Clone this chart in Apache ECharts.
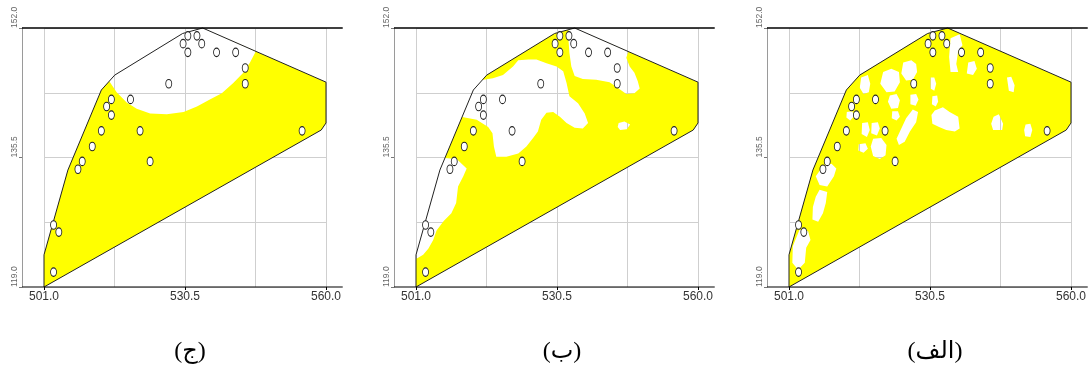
<!DOCTYPE html>
<html>
<head>
<meta charset="utf-8">
<script src="https://cdn.jsdelivr.net/npm/echarts@6.0.0/dist/echarts.min.js"></script>
<style>
  html, body { margin: 0; padding: 0; background: #fff; }
  #main { width: 1091px; height: 374px; }
</style>
</head>
<body>
<div id="main"></div>
<script>
// panel captions, left to right
const captions = ['(ج)', '(ب)', '(الف)'];

// labelled ticks (grid lines are drawn at half these steps)
const xLabelValues = [501.0, 530.5, 560.0];
const yLabelValues = [119.0, 135.5, 152.0];

// convex hull of the sampled area
const hull = [
  [501.0, 119.0], [501.0, 123.1], [506.0, 133.9], [513.0, 144.1], [515.8, 146.0],
  [530.0, 151.3], [534.2, 152.0], [560.0, 145.1], [560.0, 139.9], [559.0, 139.0]
];

// sample locations (same in every panel)
const samplePoints = [
  [503.0, 126.9], [504.1, 126.0], [503.0, 120.9], [508.1, 134.0], [509.0, 135.0],
  [511.1, 136.9], [513.0, 138.9], [514.1, 142.0], [515.1, 142.9], [515.1, 140.9],
  [519.1, 142.9], [521.1, 138.9], [523.2, 135.0], [527.1, 144.9], [530.1, 150.0],
  [531.1, 151.0], [531.1, 148.9], [533.0, 151.0], [534.0, 150.0], [537.1, 148.9],
  [541.1, 148.9], [543.1, 146.9], [543.1, 144.9], [555.0, 138.9]
];

// extent of the black frame lines above and below each plot
const frameX = [496.4, 563.5];

// unfilled (white) areas inside the hull, per panel
const holesJ = [
  [[512.7, 147.2], [514.8, 145.1], [516.2, 143.8], [518.3, 142.5], [520.4, 141.7],
   [523.2, 141.1], [526.7, 141.0], [530.2, 141.3], [533.0, 142.0], [535.7, 142.9],
   [538.2, 143.7], [540.6, 145.0], [542.7, 146.3], [544.1, 147.6], [545.4, 149.1],
   [546.2, 150.6], [535.0, 153.2], [512.7, 153.2]]
];

const holesB = [
  [[511.6, 145.0], [515.1, 145.4], [517.1, 145.6], [519.2, 146.0], [521.3, 147.1],
   [522.4, 147.9], [524.5, 148.0], [526.2, 148.0], [528.3, 147.5], [530.4, 147.1],
   [531.8, 146.5], [532.5, 145.0], [533.1, 143.3], [534.9, 142.4], [536.3, 141.1],
   [537.0, 139.9], [535.9, 139.2], [534.2, 139.3], [532.5, 139.9], [531.1, 140.7],
   [529.7, 141.3], [528.3, 141.2], [527.2, 140.3], [526.5, 138.8], [525.5, 138.0],
   [524.1, 136.9], [522.4, 136.0], [519.9, 135.6], [517.8, 135.6], [517.3, 136.9],
   [517.0, 138.6], [516.1, 139.4], [513.7, 140.3], [510.4, 140.7]],
  [[532.9, 152.5], [534.5, 152.5], [545.7, 149.5], [545.0, 148.2], [545.7, 147.1],
   [546.7, 146.3], [547.4, 145.2], [547.8, 144.3], [546.7, 143.7], [545.0, 143.6],
   [543.4, 144.3], [541.5, 145.1], [538.7, 145.4], [535.9, 145.5], [534.2, 145.9],
   [533.5, 147.1], [533.1, 148.8], [532.9, 150.5]],
  [[504.6, 135.6], [509.5, 135.3], [511.6, 134.1], [510.9, 133.1], [509.8, 131.8],
   [509.4, 129.7], [508.4, 128.4], [506.8, 127.4], [505.3, 126.2], [504.6, 125.0],
   [503.6, 123.9], [502.5, 123.1], [501.1, 122.6], [498.4, 125.8]],
  [[543.4, 139.9], [544.6, 140.1], [545.8, 139.7], [545.1, 139.1], [543.7, 139.0], [543.2, 139.4]]
];

const holesAlef = [
  [[516.1, 145.7], [517.5, 146.0], [518.0, 144.9], [517.7, 143.8], [516.6, 143.6], [515.8, 144.4]],
  [[520.7, 146.4], [522.4, 146.8], [524.0, 146.4], [524.2, 145.1], [523.1, 143.9], [521.4, 143.8], [520.1, 144.9]],
  [[524.9, 147.6], [526.6, 147.9], [527.6, 147.4], [527.8, 146.4], [526.9, 145.4], [525.5, 145.3], [524.5, 146.2]],
  [[522.1, 143.4], [523.5, 143.6], [524.2, 142.8], [523.8, 141.8], [522.4, 141.7], [521.7, 142.6]],
  [[526.4, 143.5], [527.6, 143.6], [528.1, 142.9], [527.5, 142.1], [526.4, 142.3]],
  [[530.6, 145.7], [531.4, 145.7], [531.8, 144.9], [531.4, 144.0], [530.6, 144.3]],
  [[534.8, 150.7], [536.7, 151.2], [537.3, 149.8], [536.4, 149.1], [536.0, 147.4], [536.4, 146.4], [534.8, 146.4], [534.5, 148.3]],
  [[538.5, 147.6], [539.8, 147.8], [540.3, 146.8], [539.5, 146.0], [538.2, 146.2]],
  [[546.6, 145.7], [547.5, 145.8], [548.2, 144.7], [548.0, 143.8], [547.0, 144.0]],
  [[531.5, 141.5], [533.2, 141.9], [534.6, 141.3], [536.4, 140.7], [536.7, 139.2], [535.7, 138.8], [533.9, 139.0], [532.4, 139.4], [531.0, 139.8], [530.8, 140.9]],
  [[531.0, 143.3], [532.0, 143.4], [532.2, 142.6], [531.7, 142.0], [530.9, 142.3]],
  [[526.9, 141.6], [528.0, 141.3], [527.6, 140.0], [526.3, 138.8], [525.2, 137.5], [524.0, 137.1], [523.5, 137.9], [524.5, 139.2], [525.5, 140.5]],
  [[522.6, 141.4], [523.8, 141.4], [524.2, 140.7], [523.5, 140.2], [522.5, 140.5]],
  [[516.3, 139.9], [517.5, 140.0], [517.9, 139.0], [517.3, 138.1], [516.2, 138.5]],
  [[518.3, 139.9], [519.6, 140.0], [520.0, 139.2], [519.4, 138.3], [518.2, 138.6]],
  [[518.6, 137.9], [520.3, 138.0], [521.4, 137.1], [521.2, 135.8], [520.0, 135.3], [518.6, 135.7], [518.1, 136.9]],
  [[515.6, 137.2], [517.0, 137.3], [517.5, 136.6], [516.6, 136.1], [515.5, 136.4]],
  [[513.1, 141.3], [514.3, 141.4], [514.5, 140.7], [513.8, 140.2], [513.0, 140.6]],
  [[543.8, 140.7], [544.9, 141.0], [545.8, 139.8], [545.6, 139.0], [543.7, 139.0], [543.3, 139.8]],
  [[550.5, 139.7], [551.5, 139.8], [551.9, 139.0], [551.5, 138.1], [550.4, 138.2], [550.2, 139.0]],
  [[508.1, 134.4], [509.9, 134.7], [510.9, 134.1], [510.4, 133.1], [509.0, 131.8], [507.4, 132.0], [506.6, 133.1]],
  [[507.4, 131.4], [509.0, 131.1], [508.7, 129.7], [508.1, 128.4], [507.1, 127.3], [505.9, 127.6], [506.0, 129.2], [506.6, 130.5]],
  [[503.2, 126.3], [505.0, 126.1], [505.5, 125.0], [504.6, 124.0], [504.3, 122.1], [502.9, 121.2], [501.7, 122.1], [501.8, 124.2]]
];

const panelHoles = [holesJ, holesB, holesAlef];
const gridLefts = [44, 416, 789];

function signedArea(p) {
  let s = 0;
  for (let i = 0; i < p.length; i++) {
    const a = p[i], b = p[(i + 1) % p.length];
    s += a[0] * b[1] - b[0] * a[1];
  }
  return s / 2;
}

// Sutherland-Hodgman clip against the (convex) hull
function clipToHull(poly) {
  const dir = Math.sign(signedArea(hull));
  let out = poly;
  for (let i = 0; i < hull.length && out.length; i++) {
    const a = hull[i], b = hull[(i + 1) % hull.length];
    const side = p => dir * ((b[0] - a[0]) * (p[1] - a[1]) - (b[1] - a[1]) * (p[0] - a[0]));
    const inp = out;
    out = [];
    for (let j = 0; j < inp.length; j++) {
      const cur = inp[j], prev = inp[(j + inp.length - 1) % inp.length];
      const sc = side(cur), sp = side(prev);
      const cut = () => {
        const t = sp / (sp - sc);
        return [prev[0] + (cur[0] - prev[0]) * t, prev[1] + (cur[1] - prev[1]) * t];
      };
      if (sc >= 0) {
        if (sp < 0) out.push(cut());
        out.push(cur);
      } else if (sp >= 0) {
        out.push(cut());
      }
    }
  }
  // holes wind the other way so the fill leaves them empty
  if (out.length && Math.sign(signedArea(out)) === Math.sign(signedArea(hull))) out.reverse();
  return out;
}

const clippedHoles = panelHoles.map(list => list.map(clipToHull).filter(r => r.length > 2));

function ringPath(ring, api) {
  return ring.map((p, i) => {
    const c = api.coord(p);
    return (i ? 'L' : 'M') + c[0].toFixed(2) + ' ' + c[1].toFixed(2);
  }).join(' ') + ' Z';
}

const xStep = xLabelValues[1] - xLabelValues[0];
const yStep = yLabelValues[1] - yLabelValues[0];
const xMin = xLabelValues[0], xMax = xLabelValues[xLabelValues.length - 1];
const yMin = yLabelValues[0], yMax = yLabelValues[yLabelValues.length - 1];
const narrow = "'Liberation Sans Narrow', 'Liberation Sans', Arial, sans-serif";

const grid = [], xAxis = [], yAxis = [], series = [], title = [];

gridLefts.forEach((left, k) => {
  grid.push({ left: left, top: 28, width: 282, height: 259 });

  // grid-line axes
  xAxis.push({
    type: 'value', gridIndex: k, position: 'bottom', min: xMin, max: xMax, interval: xStep / 2,
    axisLine: { show: false }, axisTick: { show: false }, axisLabel: { show: false },
    splitLine: { show: true, lineStyle: { color: '#cfcfcf', width: 1 } }
  });
  yAxis.push({
    type: 'value', gridIndex: k, position: 'left', min: yMin, max: yMax, interval: yStep / 2,
    axisLine: { show: false }, axisTick: { show: false }, axisLabel: { show: false },
    splitLine: { show: true, lineStyle: { color: '#cfcfcf', width: 1 } }
  });
  // labelled axes
  xAxis.push({
    type: 'value', gridIndex: k, position: 'bottom', min: xMin, max: xMax, interval: xStep,
    axisLine: { show: false },
    axisTick: { show: true, length: 3, lineStyle: { color: '#000' } },
    axisLabel: {
      show: true, margin: 4, fontSize: 12, fontFamily: narrow, color: '#333',
      formatter: v => v.toFixed(1)
    },
    splitLine: { show: false }
  });
  yAxis.push({
    type: 'value', gridIndex: k, position: 'left', offset: 22, min: yMin, max: yMax, interval: yStep,
    axisLine: { show: true, lineStyle: { color: '#9a9a9a', width: 1 } },
    axisTick: { show: true, length: 3, lineStyle: { color: '#777' } },
    axisLabel: {
      show: true, rotate: 90, align: 'left', verticalAlign: 'bottom', margin: 3,
      fontSize: 8.5, fontFamily: narrow, color: '#666',
      formatter: v => v.toFixed(1)
    },
    splitLine: { show: false }
  });

  series.push({
    type: 'custom',
    xAxisIndex: 2 * k, yAxisIndex: 2 * k,
    data: [[xMin, yMin]],
    silent: true,
    z: 2,
    renderItem: (params, api) => {
      const pathData = [hull].concat(clippedHoles[k]).map(r => ringPath(r, api)).join(' ');
      const topL = api.coord([frameX[0], yMax]), topR = api.coord([frameX[1], yMax]);
      const botL = api.coord([frameX[0], yMin]), botR = api.coord([frameX[1], yMin]);
      return {
        type: 'group',
        children: [
          { type: 'path', shape: { pathData: pathData }, style: { fill: '#ffff00', stroke: null } },
          { type: 'polygon', shape: { points: hull.map(p => api.coord(p)) },
            style: { fill: null, stroke: '#222', lineWidth: 1 } },
          { type: 'line', shape: { x1: topL[0], y1: topL[1], x2: topR[0], y2: topR[1] },
            style: { stroke: '#000', lineWidth: 1.5 } },
          { type: 'line', shape: { x1: botL[0], y1: botL[1], x2: botR[0], y2: botR[1] },
            style: { stroke: '#000', lineWidth: 1.2 } }
        ]
      };
    }
  });

  series.push({
    type: 'scatter',
    xAxisIndex: 2 * k, yAxisIndex: 2 * k,
    data: samplePoints,
    symbol: 'circle',
    symbolSize: [6, 8.5],
    silent: true,
    z: 3,
    itemStyle: { color: '#fff', borderColor: '#222', borderWidth: 1, opacity: 1 }
  });

  title.push({
    text: captions[k],
    left: left + 141,
    top: 335,
    textAlign: 'center',
    textStyle: {
      fontSize: 24, fontWeight: 'normal', color: '#000',
      fontFamily: "'Liberation Serif', 'DejaVu Sans', serif"
    }
  });
});

const chart = echarts.init(document.getElementById('main'));
chart.setOption({
  animation: false,
  backgroundColor: '#fff',
  title: title,
  grid: grid,
  xAxis: xAxis,
  yAxis: yAxis,
  series: series
});
</script>
</body>
</html>
